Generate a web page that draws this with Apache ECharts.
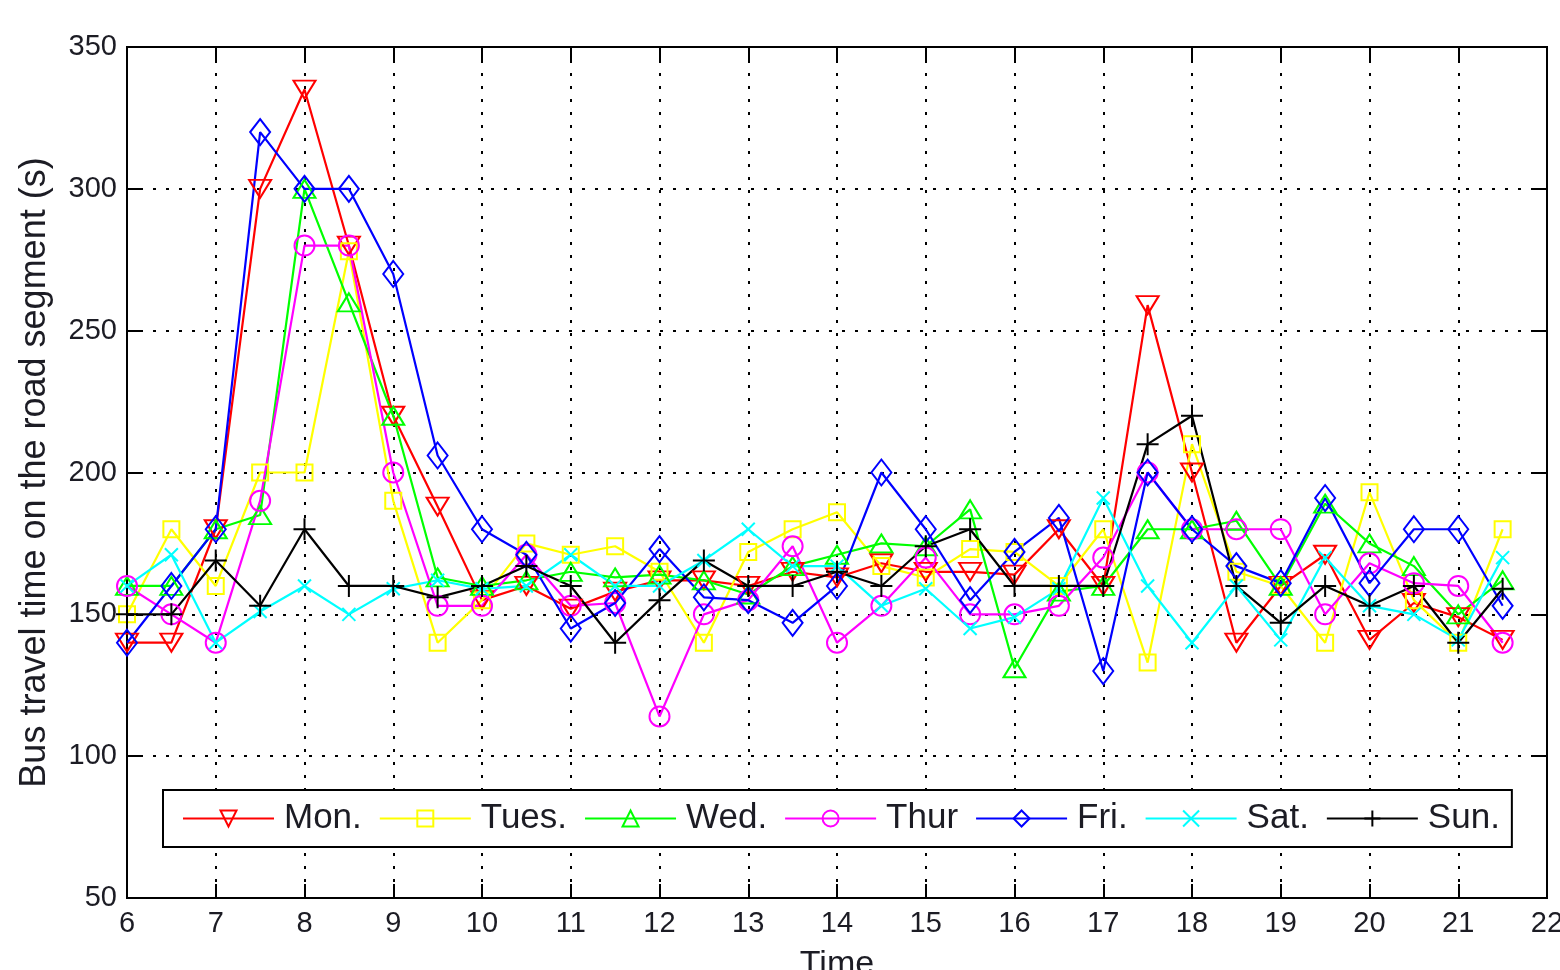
<!DOCTYPE html>
<html>
<head>
<meta charset="utf-8">
<script src="https://cdn.jsdelivr.net/npm/echarts@6/dist/echarts.min.js"></script>
<style>
  html, body { margin: 0; padding: 0; background: #fff; }
  #chart { width: 1560px; height: 970px; }
</style>
</head>
<body>
<div id="chart"></div>
<script>
// Sample times (hours)
const times = [6, 6.5, 7, 7.5, 8, 8.5, 9, 9.5, 10, 10.5, 11, 11.5, 12, 12.5, 13, 13.5,
               14, 14.5, 15, 15.5, 16, 16.5, 17, 17.5, 18, 18.5, 19, 19.5, 20, 20.5, 21, 21.5];

// Travel times per weekday (s)
const mon  = [140, 140, 180, 300, 335, 280, 220, 188, 155, 160, 152, 158, 162, 162, 160, 165,
              163, 168, 165, 165, 164, 180, 160, 259, 200, 140, 160, 171, 141, 154, 149, 141];
const tues = [150, 180, 160, 200, 200, 278, 190, 140, 155, 175, 171, 174, 165, 140, 172, 180,
              186, 167, 163, 173, 172, 160, 180, 133, 210, 165, 160, 140, 193, 155, 140, 180];
const wed  = [160, 160, 180, 185, 300, 260, 220, 163, 160, 162, 165, 163, 164, 162, 157, 167,
              171, 175, 174, 187, 131, 158, 160, 180, 180, 183, 160, 189, 175, 167, 150, 162];
const thur = [160, 150, 140, 190, 280, 280, 200, 153, 153, 171, 153, 154, 114, 150, 155, 174,
              140, 153, 170, 150, 150, 153, 170, 200, 180, 180, 180, 150, 168, 161, 160, 140];
const fri  = [140, 160, 180, 320, 300, 300, 270, 206, 180, 171, 145, 154, 173, 156, 155, 147,
              160, 200, 180, 155, 172, 184, 130, 200, 180, 167, 161, 191, 161, 180, 180, 153];
const sat  = [160, 171, 140, 151, 160, 150, 159, 162, 159, 160, 171, 160, 160, 169, 180, 167,
              167, 153, 159, 145, 149, 159, 191, 160, 140, 160, 141, 170, 153, 150, 141, 170];
const sun  = [150, 150, 169, 153, 180, 160, 160, 156, 160, 167, 160, 140, 155, 169, 160, 160,
              165, 160, 174, 180, 160, 160, 160, 210, 220, 160, 147, 160, 153, 160, 140, 159];

const dayNames = ['Mon.', 'Tues.', 'Wed.', 'Thur', 'Fri.', 'Sat.', 'Sun.'];

const FONT = "'Liberation Sans', Arial, Helvetica, sans-serif";
const TEXT = '#1c1c24';

// marker looks, MATLAB style
const looks = [
    { data: mon,  color: '#ff0000', symbol: 'triangle', size: [22, 18], rotate: 180 },
    { data: tues, color: '#ffff00', symbol: 'rect', size: 16, rotate: 0 },
    { data: wed,  color: '#00ff00', symbol: 'triangle', size: [22, 18], rotate: 0 },
    { data: thur, color: '#ff00ff', symbol: 'circle', size: 20, rotate: 0 },
    { data: fri,  color: '#0000ff', symbol: 'diamond', size: [20, 26], rotate: 0 },
    { data: sat,  color: '#00ffff', symbol: 'path://M0,0L10,10M10,0L0,10', size: 13, rotate: 0 },
    { data: sun,  color: '#000000', symbol: 'path://M5,0L5,10M0,5L10,5', size: 22, rotate: 0 }
];

const series = looks.map((s, i) => ({
    name: dayNames[i],
    type: 'line',
    data: times.map((t, k) => [t, s.data[k]]),
    symbol: s.symbol,
    symbolSize: s.size,
    symbolRotate: s.rotate,
    showAllSymbol: true,
    lineStyle: { color: s.color, width: 2.2 },
    itemStyle: { color: 'rgba(255,255,255,0)', borderColor: s.color, borderWidth: 2 },
    emphasis: { disabled: true },
    animation: false
}));

const gridLine = { show: true, lineStyle: { color: '#000', width: 2, type: [3, 10] } };

const option = {
    backgroundColor: '#fff',
    animation: false,
    grid: {
        left: 127, right: 13, top: 47, bottom: 72,
        containLabel: false, outerBoundsMode: 'none',
        show: true, borderColor: '#000', borderWidth: 2
    },
    legend: {
        data: dayNames,
        left: 163,
        top: 790,
        orient: 'horizontal',
        backgroundColor: '#fff',
        borderColor: '#000',
        borderWidth: 2,
        borderRadius: 0,
        padding: [11, 12, 11, 19],
        itemWidth: 91,
        itemHeight: 20,
        itemGap: 17,
        textStyle: { fontFamily: FONT, fontSize: 35, color: TEXT, padding: [0, 0, 0, 5] },
        selectedMode: false
    },
    xAxis: [
        {
            type: 'value', min: 6, max: 22, interval: 1,
            name: 'Time', nameLocation: 'middle', nameGap: 50,
            nameTextStyle: { fontFamily: FONT, fontSize: 34, color: TEXT },
            axisLine: { show: true, lineStyle: { color: '#000', width: 2 } },
            axisTick: { show: true, inside: true, length: 14, lineStyle: { color: '#000', width: 2 } },
            axisLabel: { fontFamily: FONT, fontSize: 29, color: TEXT, margin: 11 },
            splitLine: gridLine
        },
        {
            type: 'value', min: 6, max: 22, interval: 1, position: 'top',
            axisLine: { show: true, lineStyle: { color: '#000', width: 2 } },
            axisTick: { show: true, inside: true, length: 14, lineStyle: { color: '#000', width: 2 } },
            axisLabel: { show: false },
            splitLine: { show: false }
        }
    ],
    yAxis: [
        {
            type: 'value', min: 50, max: 350, interval: 50,
            name: 'Bus travel time on the road segment (s)', nameLocation: 'middle', nameGap: 74,
            nameTextStyle: { fontFamily: FONT, fontSize: 36, color: TEXT },
            axisLine: { show: true, lineStyle: { color: '#000', width: 2 } },
            axisTick: { show: true, inside: true, length: 14, lineStyle: { color: '#000', width: 2 } },
            axisLabel: { fontFamily: FONT, fontSize: 29, color: TEXT, margin: 10 },
            splitLine: gridLine
        },
        {
            type: 'value', min: 50, max: 350, interval: 50, position: 'right',
            axisLine: { show: true, lineStyle: { color: '#000', width: 2 } },
            axisTick: { show: true, inside: true, length: 14, lineStyle: { color: '#000', width: 2 } },
            axisLabel: { show: false },
            splitLine: { show: false }
        }
    ],
    series: series
};

const myChart = echarts.init(document.getElementById('chart'));
myChart.setOption(option);
window.addEventListener('resize', () => myChart.resize());
</script>
</body>
</html>
